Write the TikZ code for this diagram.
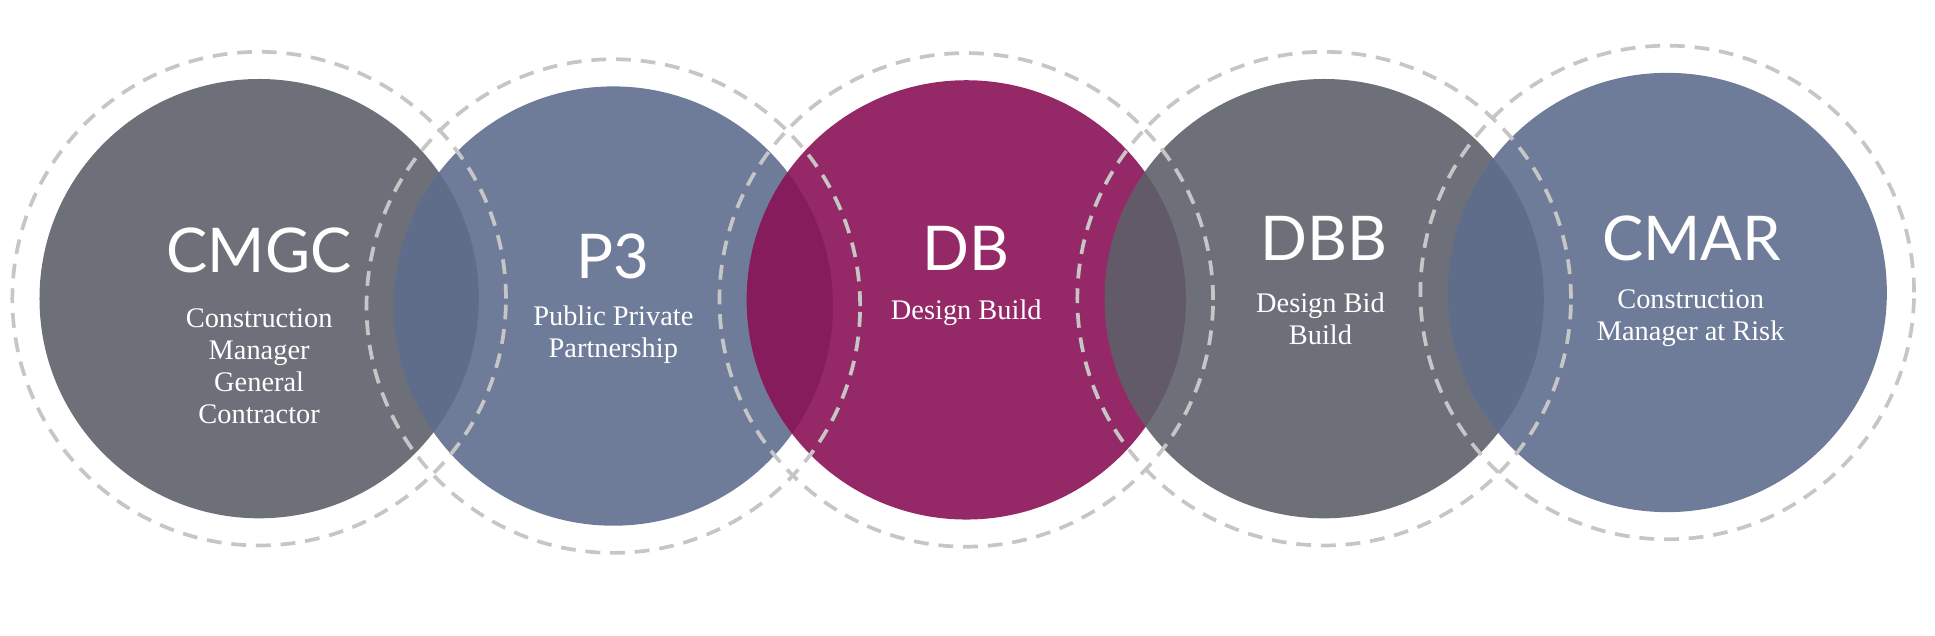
\documentclass[tikz,border=0pt]{standalone}
\usepackage{fontspec}
\setmainfont{Liberation Serif}
\newfontfamily\titlefont{Lato}
\usetikzlibrary{positioning}
\definecolor{slategray}{HTML}{5E616A}
\definecolor{steelblue}{HTML}{5F6E8E}
\definecolor{berry}{HTML}{8A1256}
\tikzset{
  disc/.style={circle,minimum size=356pt,inner sep=0pt,fill opacity=0.9,text opacity=1},
  ring/.style={circle,minimum size=400pt,draw=gray!45,line width=3pt,dash pattern=on 12pt off 8pt},
  acro/.style={text=white,font=\titlefont\fontsize{50}{50}\selectfont},
  gloss/.style={text=white,align=center,font=\fontsize{23}{26}\selectfont}
}
\begin{document}
\begin{tikzpicture}[x=1pt,y=1pt]
    \useasboundingbox (0,0) rectangle (1568,-515);
    % filled discs
    \node[disc,fill=slategray] (cmgc) at (210,-242) {};
    \node[disc,fill=steelblue] (p3) at (497,-248) {};
    \node[disc,fill=berry] (db) at (783,-243) {};
    \node[disc,fill=slategray] (dbb) at (1073,-242) {};
    \node[disc,fill=steelblue] (cmar) at (1351,-237) {};
    % dashed rings
    \foreach \c in {cmgc,p3,db,dbb,cmar}
        \node[ring] at (\c) {};
    % labels
    \node[acro] at (210,-203) {CMGC};
    \node[gloss] at (210,-297) {Construction\\Manager\\General\\Contractor};
    \node[acro] at (497,-208) {P3};
    \node[gloss] at (497,-271) {Public Private\\Partnership};
    \node[acro] at (783,-201) {DB};
    \node[gloss] at (783,-253) {Design Build};
    \node[acro] at (1073,-193) {DBB};
    \node[gloss] at (1070,-258) {Design Bid\\Build};
    \node[acro] at (1371,-193) {CMAR};
    \node[gloss] at (1370,-258) {Construction\\Manager at Risk};
\end{tikzpicture}
\end{document}
